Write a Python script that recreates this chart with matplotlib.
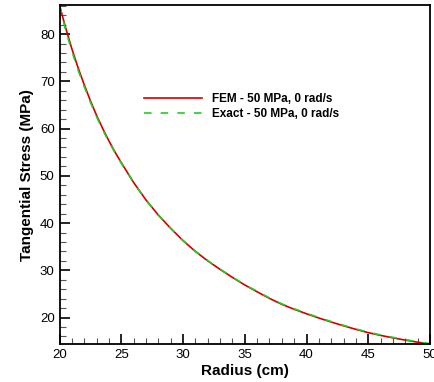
import matplotlib
matplotlib.use("Agg")
import matplotlib.pyplot as plt
from matplotlib.ticker import MultipleLocator

# values
radius = [20, 20.5, 21, 21.5, 22, 22.5, 23, 23.5, 24, 24.5, 25, 26, 27, 28,
          29, 30, 31, 32, 33, 34, 35, 36, 37, 38, 39, 40, 41, 42, 43, 44,
          45, 46, 47, 48, 49, 50]
fem = [86.1, 81.3, 76.9, 72.9, 69.3, 65.9, 62.8, 60.0, 57.4, 55.0, 52.8,
       48.6, 44.9, 41.7, 38.9, 36.3, 34.0, 32.0, 30.2, 28.5, 26.9, 25.45,
       24.05, 22.8, 21.75, 20.8, 19.9, 19.05, 18.25, 17.5, 16.8, 16.22,
       15.7, 15.22, 14.78, 14.4]
exact = [86.1, 80.8, 76.4, 72.4, 68.9, 65.6, 62.5, 59.75, 57.2, 54.85, 52.7,
         48.55, 44.85, 41.7, 38.9, 36.3, 34.05, 32.05, 30.25, 28.55, 26.95,
         25.55, 24.15, 22.9, 21.85, 20.9, 20.0, 19.15, 18.35, 17.6, 16.9,
         16.32, 15.8, 15.32, 14.88, 14.45]
labels = ["FEM - 50 MPa, 0 rad/s", "Exact - 50 MPa, 0 rad/s"]

plt.rcParams["font.family"] = ["Liberation Sans", "DejaVu Sans"]

fig = plt.figure(figsize=(4.35, 3.82), dpi=100)
ax = fig.add_axes([0.1368, 0.0995, 0.8517, 0.8866])

ax.plot(radius, fem, color="#d00000", lw=1.2, label=labels[0])
ax.plot(radius, exact, color="#22cc22", lw=1.2, dashes=(4.5, 5.5), label=labels[1])

ax.set_xlim(20, 50)
ax.set_ylim(14.4, 86.1)
ax.xaxis.set_major_locator(MultipleLocator(5))
ax.xaxis.set_minor_locator(MultipleLocator(1))
ax.yaxis.set_major_locator(MultipleLocator(10))
ax.yaxis.set_minor_locator(MultipleLocator(2))
ax.tick_params(which="both", direction="in", top=False, right=False,
               labelsize=9.5, width=1.2)
ax.tick_params(which="major", length=7)
ax.tick_params(which="minor", length=4, width=0.8, color="#555555")
for s in ax.spines.values():
    s.set_linewidth(1.3)

ax.set_xlabel("Radius (cm)", fontsize=11, fontweight="bold", labelpad=2)
ax.set_ylabel("Tangential Stress (MPa)", fontsize=11, fontweight="bold", labelpad=4)

ax.legend(loc="upper left", bbox_to_anchor=(138 / 435, 1 - 87 / 382),
          bbox_transform=fig.transFigure, frameon=False, borderpad=0,
          handlelength=4.9, handletextpad=0.9, labelspacing=0.3,
          prop={"size": 8.5, "weight": "bold"})

fig.savefig("out.png", dpi=100)
